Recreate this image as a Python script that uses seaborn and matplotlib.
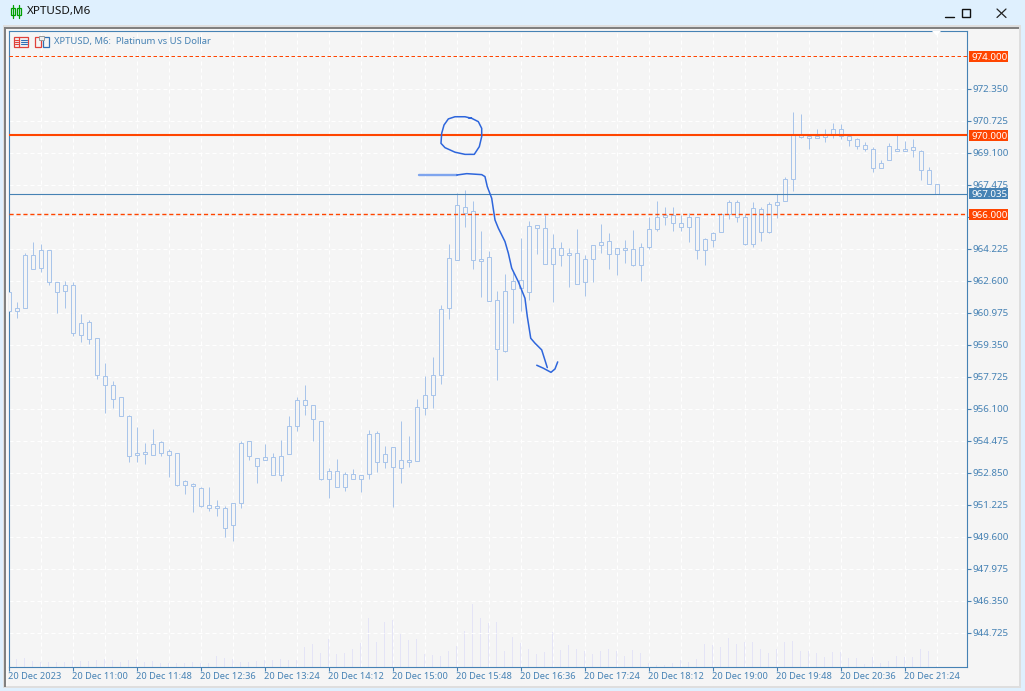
import matplotlib
matplotlib.use("Agg")
import matplotlib.pyplot as plt
from matplotlib.patches import Rectangle, Polygon
import numpy as np
import pandas as pd
import seaborn as sns

body_top = [962.03,961.24,963.90,963.90,964.16,964.16,962.53,962.38,962.38,960.45,960.50,959.69,957.76,957.30,956.69,
955.73,953.84,953.93,954.31,954.41,953.95,953.85,952.43,952.30,952.07,951.21,951.19,951.06,951.31,954.36,
954.46,953.60,953.65,953.65,953.70,955.22,956.54,956.54,956.29,955.48,952.94,952.94,952.78,952.78,952.73,
954.82,954.87,953.80,954.16,953.50,953.50,956.19,956.80,957.81,961.16,963.75,966.44,966.34,966.14,963.72,
963.80,961.62,962.08,962.58,962.63,965.38,965.43,965.28,964.26,964.26,964.01,964.01,963.70,964.41,964.57,
964.62,964.26,964.29,964.21,964.31,965.23,965.84,965.94,965.94,965.53,965.84,965.84,964.72,965.02,965.99,
966.60,966.60,965.84,966.29,966.24,966.50,966.60,967.77,970.00,970.01,969.98,969.98,970.00,970.30,970.30,
969.95,969.80,969.49,969.29,968.58,969.44,969.30,969.30,969.39,969.19,968.22,967.51]
body_bottom = [961.06,961.06,961.21,963.22,963.24,962.53,962.03,962.08,959.94,959.84,959.64,957.81,957.30,956.59,955.73,
953.70,953.74,953.83,953.75,953.85,953.75,952.25,952.25,952.20,951.19,951.09,951.09,950.04,950.19,951.31,
953.70,953.19,953.50,952.73,952.73,953.80,955.22,956.29,955.58,952.53,952.53,952.13,952.13,952.53,952.53,
952.78,953.39,953.39,953.14,953.09,953.39,953.45,956.14,956.80,957.81,961.21,963.65,966.04,963.65,963.62,
961.57,959.13,959.03,962.17,962.23,962.03,965.28,963.45,963.45,963.90,963.90,962.43,962.53,963.70,964.41,
963.96,963.96,964.19,963.40,963.40,964.31,965.23,965.84,965.53,965.33,965.33,964.16,964.16,964.67,965.07,
965.99,965.84,964.46,964.46,965.07,965.07,966.44,966.65,967.77,969.91,969.88,969.88,969.90,970.00,969.95,
969.75,969.44,969.29,968.32,968.32,968.73,969.20,969.20,969.24,968.22,967.51,967.00]
high = [962.03,961.53,964.01,964.58,964.48,964.16,962.53,962.60,962.53,960.92,960.62,959.69,958.42,957.52,956.69,
955.78,955.18,954.36,955.07,954.46,954.05,953.85,952.48,952.32,952.12,952.14,951.48,951.16,951.31,954.46,
954.46,953.60,954.32,953.85,954.51,955.73,956.69,957.34,956.29,955.48,953.09,953.55,952.89,953.04,952.73,
955.02,954.97,954.21,954.16,955.48,954.73,956.59,957.78,958.74,961.37,964.46,967.05,967.22,966.65,965.12,
964.11,962.08,962.94,963.06,964.77,965.63,965.43,965.94,964.97,964.57,964.26,965.23,963.90,964.41,965.48,
965.02,964.26,964.67,965.18,964.52,965.84,966.65,966.34,966.34,965.94,966.04,965.84,964.77,965.07,966.04,
966.70,966.70,965.99,966.60,966.34,966.60,967.00,967.87,971.17,971.07,970.00,970.30,970.30,970.61,970.56,
969.95,969.85,969.64,969.39,968.73,969.59,970.00,969.69,969.80,969.24,968.37,967.51]
low = [960.97,960.74,961.21,963.19,963.07,962.41,960.99,961.24,959.82,959.52,959.42,957.64,955.91,956.17,955.73,
953.42,953.42,953.32,953.75,953.73,952.66,952.20,951.80,950.88,951.14,950.94,950.68,949.62,949.41,951.09,
953.53,952.36,953.50,952.73,952.46,953.80,954.97,955.81,954.49,952.48,951.60,952.13,951.92,952.53,951.90,
952.56,952.92,953.12,951.14,952.36,953.16,953.45,955.81,956.17,957.38,960.65,963.65,965.36,963.22,961.77,
961.57,957.56,958.98,960.48,961.05,961.65,963.99,963.45,961.52,963.38,962.31,962.43,961.82,962.53,964.01,
963.23,962.92,963.53,963.35,962.61,964.21,965.12,965.43,965.12,965.12,964.57,963.74,963.43,964.31,965.07,
965.76,965.58,964.43,964.34,964.65,965.02,965.78,966.65,967.15,969.85,969.29,969.90,969.64,969.85,969.80,
969.44,969.29,969.19,968.12,968.32,968.73,969.19,969.19,968.88,967.71,967.51,967.00]
tick_volume = [6,8,9,6,5,5,5,5,7,6,6,7,8,7,5,7,8,5,6,4,4,4,4,5,4,4,11,9,8,5,5,6,7,7,8,7,7,20,23,14,28,13,14,18,24,49,25,45,47,33,
27,28,13,12,11,16,21,36,63,49,44,45,16,30,24,18,13,15,35,17,22,18,16,13,16,18,16,11,17,14,4,2,2,4,7,5,8,23,22,20,
29,23,25,25,18,14,18,25,26,16,16,14,10,15,15,9,9,3,10,4,6,11,10,10,18,16,1]

time_labels = ["20 Dec 2023","20 Dec 11:00","20 Dec 11:48","20 Dec 12:36","20 Dec 13:24","20 Dec 14:12","20 Dec 15:00",
               "20 Dec 15:48","20 Dec 16:36","20 Dec 17:24","20 Dec 18:12","20 Dec 19:00","20 Dec 19:48","20 Dec 20:36","20 Dec 21:24"]
price_ticks = [972.350,970.725,969.100,967.475,965.850,964.225,962.600,960.975,959.350,957.725,956.100,954.475,952.850,951.225,949.600,947.975,946.350,944.725]
orange_levels = [974.000,970.000,966.000]
last_price = 967.035

circle_x = [57.9,57.06,55.81,54.98,54.44,54.15,54.06,54.56,55.81,57.06,58.22,58.85,59.15,59.15,58.73,57.9,57.48]
circle_y = [970.86,970.94,970.94,970.83,970.52,970.10,969.59,969.37,969.14,969.03,969.03,969.42,969.93,970.35,970.69,970.86,970.89]
stroke_x = [51.31,56.03,57.28,59.15,59.56,59.85,60.4,60.81,61.23,62.06,62.48,62.9,63.73,64.56,64.85,65.28,65.81,66.65,67.35]
stroke_y = [967.98,967.98,968.05,968.0,967.90,967.39,966.80,965.70,965.28,964.60,964.01,963.25,962.56,961.72,960.79,959.69,959.44,959.10,958.20]
arrow_x = [66.03,66.85,67.81,68.31,68.65]
arrow_y = [958.32,958.17,957.96,958.13,958.49]

W, H = 1025, 691
BG = "#F5F5F5"; STEEL = "#4682B4"; ORANGE = "#FF4500"; CANDLE = "#A9C5EA"; VOL = "#E4E4F6"; PEN = "#2E66DC"; WIN = "#DFF0FE"

sns.set_theme(style="white")
plt.rcParams["font.family"] = ["Noto Sans", "DejaVu Sans"]
fig = plt.figure(figsize=(W/100, H/100), dpi=100, facecolor=WIN)

def rect_axes(l, t, r, b):
    return [l/W, 1-b/H, (r-l)/W, (b-t)/H]

# window chrome, drawn in figure pixels
chrome = fig.add_axes([0, 0, 1, 1], zorder=0)
chrome.set_xlim(0, W); chrome.set_ylim(H, 0); chrome.axis("off")
chrome.add_patch(Rectangle((4, 26), 1016, 661, fc=BG, ec="#DEDEDE", lw=1.4))
chrome.add_patch(Rectangle((4, 26.5), 1015, 2.2, fc="#808080", ec="none"))
chrome.add_patch(Rectangle((4, 26.5), 2.4, 660, fc="#808080", ec="none"))
chrome.add_patch(Rectangle((6.4, 28.7), 2, 657, fc="#FFFFFF", ec="none", alpha=.4))
chrome.text(27, 11.5, "XPTUSD,M6", fontsize=8.4, color="#111111", va="center", ha="left")
# green candle icon
for x0 in (11, 17):
    chrome.add_patch(Rectangle((x0, 8), 4, 7, fc="none", ec="#00A000", lw=.9))
    chrome.plot([x0+2, x0+2], [4.5, 18], color="#00A000", lw=.9)
# window buttons
chrome.plot([945, 954], [17, 17], color="#111111", lw=1)
chrome.add_patch(Rectangle((961.5, 9), 8, 8, fc="none", ec="#111111", lw=1))
chrome.plot([997, 1006], [9, 17.5], color="#222222", lw=.9)
chrome.plot([997, 1006], [17.5, 9], color="#222222", lw=.9)

# volume panel behind the candles
frame = pd.DataFrame({"bar": np.arange(len(tick_volume)), "volume": tick_volume,
                      "top": body_top, "bottom": body_bottom, "high": high, "low": low})
pos = rect_axes(8.5, 30.5, 966.5, 666.5)
ax_vol = fig.add_axes(pos, zorder=1, facecolor="none")
sns.barplot(data=frame, x="bar", y="volume", native_scale=True, color=VOL, saturation=1,
            width=0.125, linewidth=0, ax=ax_vol, legend=False)
ax_vol.set_ylim(0, 636)
ax_vol.set_xlim(0, 119.75)
ax_vol.axis("off")

ax = fig.add_axes(pos, zorder=2, facecolor="none")
ax.set_axisbelow(True)
ax.set_xlim(0, 119.75)
ax.set_ylim(943.02, 975.32)

grid_style = dict(color="white", lw=0.72, linestyle=(0, (4, 3)), zorder=1, snap=True)
ax.hlines(price_ticks, 0, 119.75, **grid_style)
ax.vlines(np.arange(0, 120, 4), 943.02, 975.32, **grid_style)

ax.vlines(frame["bar"], frame["low"], frame["high"], color=CANDLE, lw=0.72, zorder=2, snap=True)
ax.bar(frame["bar"], frame["top"]-frame["bottom"], width=0.5, bottom=frame["bottom"], facecolor=BG,
       edgecolor=CANDLE, linewidth=0.72, zorder=3, snap=True)

ax.axhline(orange_levels[0], color=ORANGE, lw=0.72, linestyle=(0, (3.5, 2.5)), zorder=4)
ax.axhline(orange_levels[1], color=ORANGE, lw=1.5, zorder=4)
ax.axhline(orange_levels[2], color=ORANGE, lw=1.0, linestyle=(0, (3, 2)), zorder=4)
ax.axhline(last_price, color=STEEL, lw=0.8, zorder=4)

ax.plot(circle_x, circle_y, color=PEN, lw=1.1, solid_joinstyle="round", zorder=5)
ax.plot(stroke_x[:2], stroke_y[:2], color="#7FA5EE", lw=1.7, zorder=5)
ax.plot(stroke_x[1:], stroke_y[1:], color=PEN, lw=1.1, solid_joinstyle="round", zorder=5)
ax.plot(arrow_x, arrow_y, color=PEN, lw=1.1, solid_joinstyle="round", zorder=5)

for s in ax.spines.values():
    s.set_color(STEEL); s.set_linewidth(0.8)
ax.set_yticks(price_ticks)
ax.set_yticklabels([f"{v:.3f}" for v in price_ticks])
ax.yaxis.tick_right()
ax.set_xticks(np.arange(0, 8*len(time_labels), 8))
ax.set_xticklabels(time_labels, ha="left")
ax.tick_params(axis="both", which="major", length=3, width=0.8, color=STEEL, labelcolor=STEEL,
               pad=1.5, left=False, right=True, bottom=True)
ax.tick_params(axis="y", labelsize=7.0)
ax.tick_params(axis="x", labelsize=6.7, pad=1.2)

# price badges on the scale
badge = dict(transform=ax.get_yaxis_transform(), fontsize=7.0, color="white", ha="left", va="center_baseline", zorder=10, clip_on=False)
badge_box = dict(transform=ax.get_yaxis_transform(), clip_on=False, zorder=9, ec="none")
for level, fill in [(v, ORANGE) for v in orange_levels] + [(last_price, STEEL)]:
    ax.add_patch(Rectangle((1.0026, level-0.28), 0.0407, 0.56, fc=fill, **badge_box))
    ax.text(1.0057, level, f"{level:.3f}", **badge)

# chart header, icons and shift marker, drawn in figure pixels
top = fig.add_axes([0, 0, 1, 1], zorder=3, facecolor="none")
top.set_xlim(0, W); top.set_ylim(H, 0); top.axis("off")
top.add_patch(Polygon([[932, 31], [941, 31], [936.5, 35.5]], fc="white", ec="none"))
top.add_patch(Rectangle((13.5, 36.5), 14, 10, fc="none", ec="#E0403A", lw=.9))
top.plot([19, 19], [36.5, 46.5], color="#E0403A", lw=.9)
for yy in (39.5, 41.5, 43.5):
    top.plot([20.5, 26.5], [yy, yy], color="#2F6FB5", lw=.8)
    top.plot([15, 18], [yy, yy], color="#E0403A", lw=.8)
top.add_patch(Rectangle((34.5, 37), 6, 10, fc="none", ec="#E0403A", lw=.9))
top.add_patch(Rectangle((43, 37), 5.5, 10, fc="none", ec="#2F6FB5", lw=.9))
top.add_patch(Rectangle((39, 35.5), 5, 4, fc="#EEEEEE", ec="#999999", lw=.7))
top.text(54, 41.5, "XPTUSD, M6:  Platinum vs US Dollar", fontsize=6.8, color=STEEL, va="center", ha="left")

fig.savefig("out.png", dpi=100, facecolor=WIN)
